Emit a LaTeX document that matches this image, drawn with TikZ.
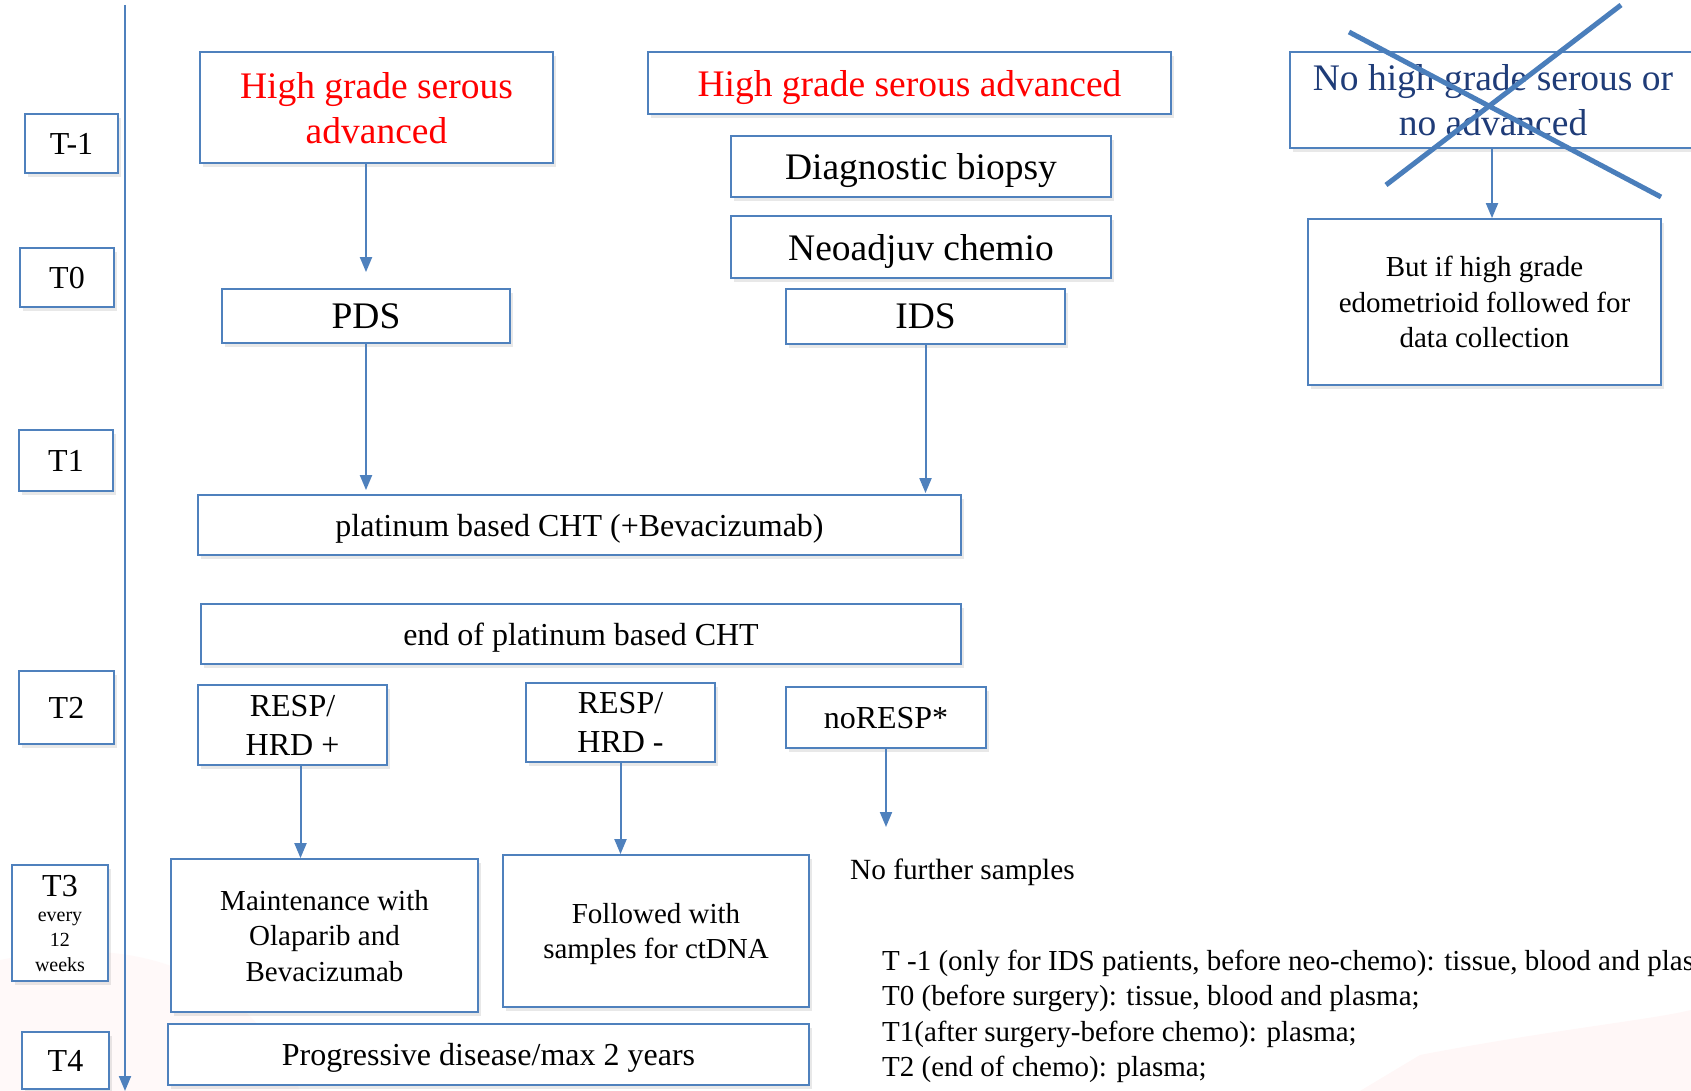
\documentclass[tikz,border=0pt]{standalone}
\usepackage{fontspec}
\setmainfont{Liberation Serif}
\usetikzlibrary{arrows.meta,shadows}
\definecolor{boxblue}{HTML}{4F81BD}
\definecolor{crossblue}{HTML}{4A7EBB}
\definecolor{navy}{HTML}{1F3C78}
\definecolor{hgred}{HTML}{FF0000}
\tikzset{
  fbox/.style={draw=boxblue, line width=1.8pt, fill=white, align=center, inner sep=0pt, text depth=0pt,
    drop shadow={opacity=0.18, shadow xshift=3pt, shadow yshift=-4pt}},
  tlabel/.style={fbox, font=\fontsize{32}{36}\selectfont},
  arr/.style={draw=boxblue, line width=2pt, -{Triangle[length=15pt,width=12pt]}},
  crossline/.style={draw=crossblue, line width=5pt},
  big/.style={font=\fontsize{37.5}{45}\selectfont},
  mid/.style={font=\fontsize{32}{38}\selectfont},
  small/.style={font=\fontsize{29}{35.5}\selectfont},
  legendtext/.style={font=\fontsize{29}{35.5}\selectfont, anchor=base west, inner sep=0pt},
}
\begin{document}
\begin{tikzpicture}[x=1pt,y=-1pt]
\useasboundingbox (0,0) rectangle (1691,1091);
\clip (0,0) rectangle (1691,1091);
\fill[white] (0,0) rectangle (1691,1091);
% faint background watermark
\fill[red!4, opacity=0.6] (0,960) .. controls (150,930) and (250,980) .. (300,1091) -- (0,1091) -- cycle;
\fill[red!5, opacity=0.6] (1360,1091) -- (1420,1055) .. controls (1550,1030) and (1650,1020) .. (1691,1010) -- (1691,1091) -- cycle;

% time axis
\coordinate (axtop) at (125,5);
\coordinate (axbot) at (125,1091);
\draw[arr] (axtop) -- (axbot);

% time labels
\node[tlabel, minimum width=93, minimum height=59] (tm1) at (71.5,143.5) {T-1};
\node[tlabel, minimum width=94, minimum height=59] (t0) at (67,277.5) {T0};
\node[tlabel, minimum width=94, minimum height=61] (t1) at (66,460.5) {T1};
\node[tlabel, minimum width=95, minimum height=73] (t2) at (66.5,707.5) {T2};
\node[fbox, font=\fontsize{20}{25}\selectfont, minimum width=96, minimum height=116] (t3) at (60,923)
  {{\fontsize{32}{34}\selectfont T3}\\every\\12\\weeks};
\node[tlabel, minimum width=87, minimum height=57] (t4) at (65.5,1060.5) {T4};

% top row
\node[fbox, big, text=hgred, minimum width=353, minimum height=111] (hg1) at (376.5,107.5) {High grade serous\\advanced};
\node[fbox, big, text=hgred, minimum width=523, minimum height=62] (hg2) at (909.5,83) {High grade serous advanced};
\node[fbox, big, minimum width=380, minimum height=61] (diag) at (921,166.5) {Diagnostic biopsy};
\node[fbox, big, minimum width=380, minimum height=62] (neo) at (921,247) {Neoadjuv chemio};
\node[fbox, big, minimum width=279, minimum height=55] (ids) at (925.5,316.5) {IDS};
\node[fbox, big, minimum width=288, minimum height=54] (pds) at (366,316) {PDS};

\node[fbox, big, text=navy, minimum width=406, minimum height=96] (nohg) at (1493,100) {No high grade serous or\\no advanced};
\node[fbox, small, minimum width=353, minimum height=166] (but) at (1484.5,302) {But if high grade\\edometrioid followed for\\data collection};

% cross
\coordinate (c1a) at (1349,32);
\coordinate (c1b) at (1661,197);
\coordinate (c2a) at (1621,5);
\coordinate (c2b) at (1386,185);
\draw[crossline] (c1a) -- (c1b);
\draw[crossline] (c2a) -- (c2b);

% middle
\node[fbox, mid, minimum width=763, minimum height=60] (plat) at (579.5,525) {platinum based CHT (+Bevacizumab)};
\node[fbox, mid, minimum width=760, minimum height=60] (endplat) at (581,634) {end of platinum based CHT};
\node[fbox, font=\fontsize{32}{39}\selectfont, minimum width=189, minimum height=80] (resp1) at (292.5,725) {RESP/\\HRD +};
\node[fbox, font=\fontsize{32}{39}\selectfont, minimum width=189, minimum height=79] (resp2) at (620.5,722.5) {RESP/\\HRD -};
\node[fbox, mid, minimum width=200, minimum height=61] (noresp) at (886,717.5) {noRESP*};
\coordinate (noend) at (886,827);
\node[font=\fontsize{29.3}{35}\selectfont, anchor=west, inner sep=0pt] (nofurther) at (850,872) {No further samples};

% bottom
\node[fbox, small, minimum width=307, minimum height=153] (maint) at (324.5,935.5) {Maintenance with\\Olaparib and\\Bevacizumab};
\node[fbox, small, minimum width=306, minimum height=152] (foll) at (656,931) {Followed with\\samples for ctDNA};
\node[fbox, mid, minimum width=641, minimum height=61] (prog) at (488.5,1054.5) {Progressive disease/max 2 years};

% legend
\node[legendtext] (leg1) at (882,970) {T -1 (only for IDS patients, before neo-chemo): tissue, blood and plasma;};
\node[legendtext] (leg2) at (882,1005.5) {T0 (before surgery): tissue, blood and plasma;};
\node[legendtext] (leg3) at (882,1041) {T1(after surgery-before chemo): plasma;};
\node[legendtext] (leg4) at (882,1076.5) {T2 (end of chemo): plasma;};

% connectors
\draw[arr, shorten >=16pt] (hg1.south -| pds.north) -- (pds.north);
\draw[arr, shorten >=4pt] (pds.south) -- (pds.south |- plat.north);
\draw[arr, shorten >=1pt] (ids.south) -- (ids.south |- plat.north);
\draw[arr] (nohg.south -| 1492,0) -- (but.north -| 1492,0);
\draw[arr] ([xshift=8pt]resp1.south) -- ([xshift=8pt]resp1.south |- maint.north);
\draw[arr] (resp2.south) -- (resp2.south |- foll.north);
\draw[arr] (noresp.south) -- (noend);
\end{tikzpicture}
\end{document}
